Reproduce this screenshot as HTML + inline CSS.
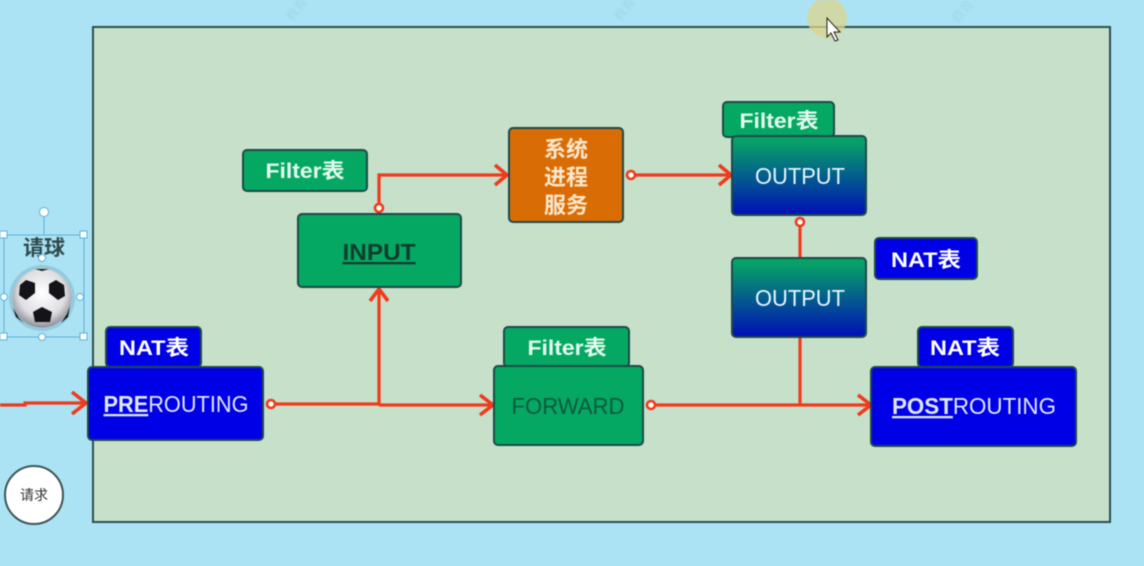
<!DOCTYPE html>
<html><head><meta charset="utf-8">
<style>
html,body{margin:0;padding:0;background:#abe3f4;width:1144px;height:566px;overflow:hidden}
svg{display:block;filter:blur(.55px)}
text{font-family:"Liberation Sans","Noto Sans CJK SC",sans-serif;text-anchor:middle}
</style></head><body>
<svg width="1144" height="566" viewBox="0 0 1144 566" xmlns="http://www.w3.org/2000/svg">
<defs>
<linearGradient id="g" x1="0" y1="0" x2="0" y2="1"><stop offset="0.08" stop-color="#07a068"/><stop offset="1" stop-color="#0010b8"/></linearGradient>
<radialGradient id="ball" cx="0.5" cy="0.42" r="0.6"><stop offset="0" stop-color="#fff"/><stop offset="0.65" stop-color="#dfdfe4"/><stop offset="1" stop-color="#85858e"/></radialGradient>
</defs>
<rect width="1144" height="566" fill="#abe3f4"/>
<text x="300" y="12" font-size="13" fill="#a2d9e8" transform="rotate(-50 300 12)">教育</text>
<text x="628" y="12" font-size="13" fill="#a2d9e8" transform="rotate(-50 628 12)">教育</text>
<text x="966" y="14" font-size="13" fill="#a2d9e8" transform="rotate(-50 966 14)">教育</text>
<rect x="93" y="27" width="1017" height="495" fill="#c6e0c9" stroke="#2c4f50" stroke-width="2"/>
<circle cx="827" cy="18" r="20" fill="#dcd48e" opacity=".75"/>
<path d="M827 18v19l4-4 4 8 3-1-4-8h6z" fill="#fff" stroke="#222" stroke-width="1"/>

<!-- connectors -->
<g fill="none" stroke="#f13a1c" stroke-width="3.2">
<path d="M0 405H25V403H86"/><path d="M72 392l14 11-14 11" stroke-width="3.6"/>
<path d="M275 404H379L380 405H492"/><path d="M480 395l13 10-13 10" stroke-width="3.6"/>
<path d="M379 404V289"/><path d="M370 301l9-12 9 12" stroke-width="3.6"/>
<path d="M379 204V175H507"/><path d="M495 165l12 10-12 10" stroke-width="3.6"/>
<path d="M635 175H731"/><path d="M719 165l12 10-12 10" stroke-width="3.6"/>
<path d="M800 226V258"/><path d="M800 336V405"/>
<path d="M655 405H870"/><path d="M858 395l13 10-13 10" stroke-width="3.6"/>
<g stroke-width="2.6">
<circle cx="271" cy="404" r="4" fill="#fff"/><circle cx="379" cy="208" r="4" fill="#fff"/><circle cx="631" cy="175" r="4" fill="#fff"/><circle cx="800" cy="222" r="4" fill="#fff"/><circle cx="651" cy="405" r="4" fill="#fff"/>
</g>
</g>

<!-- nodes -->
<g stroke="#1d4a4a" stroke-width="2">
<rect x="243" y="150" width="124" height="41" rx="4" fill="#05a862"/>
<rect x="298" y="214" width="163" height="73" rx="4" fill="#05a862"/>
<rect x="509" y="128" width="114" height="94" rx="4" fill="#da6c05"/>
<rect x="723" y="102" width="111" height="35" rx="4" fill="#05a862"/>
<rect x="732" y="136" width="134" height="79" rx="4" fill="url(#g)"/>
<rect x="732" y="258" width="134" height="79" rx="4" fill="url(#g)"/>
<rect x="875" y="238" width="102" height="41" rx="4" fill="#0000e6"/>
<rect x="106" y="327" width="95" height="40" rx="4" fill="#0000e6"/>
<rect x="88" y="367" width="175" height="73" rx="4" fill="#0000e6"/>
<rect x="504" y="327" width="125" height="40" rx="4" fill="#05a862"/>
<rect x="494" y="366" width="149" height="79" rx="4" fill="#05a862"/>
<rect x="918" y="327" width="95" height="40" rx="4" fill="#0000e6"/>
<rect x="871" y="367" width="205" height="79" rx="4" fill="#0000e6"/>
</g>

<!-- labels -->
<g font-size="21" fill="#e4fbef" font-weight="bold">
<text x="305" y="178" textLength="79" lengthAdjust="spacingAndGlyphs">Filter表</text>
<text x="779" y="128" textLength="79" lengthAdjust="spacingAndGlyphs">Filter表</text>
<text x="567" y="355" textLength="79" lengthAdjust="spacingAndGlyphs">Filter表</text>
<text x="926" y="267" fill="#fff" textLength="70" lengthAdjust="spacingAndGlyphs">NAT表</text>
<text x="154" y="355" fill="#fff" textLength="70" lengthAdjust="spacingAndGlyphs">NAT表</text>
<text x="965" y="355" fill="#fff" textLength="70" lengthAdjust="spacingAndGlyphs">NAT表</text>
</g>
<text x="379" y="260" font-size="23" font-weight="bold" fill="#123c30" text-decoration="underline" textLength="73" lengthAdjust="spacingAndGlyphs">INPUT</text>
<g font-size="22" font-weight="bold" fill="#fbe8cc">
<text x="566" y="157">系统</text><text x="566" y="185">进程</text><text x="566" y="213">服务</text>
</g>
<text x="800" y="184" font-size="23" fill="#e2f6ff" textLength="90" lengthAdjust="spacingAndGlyphs">OUTPUT</text>
<text x="800" y="306" font-size="23" fill="#e2f6ff" textLength="90" lengthAdjust="spacingAndGlyphs">OUTPUT</text>
<text x="176" y="412" font-size="23" fill="#dfe6ff" textLength="145" lengthAdjust="spacingAndGlyphs"><tspan font-weight="bold" text-decoration="underline">PRE</tspan>ROUTING</text>
<text x="568" y="414" font-size="23" fill="#0b5a3f" textLength="113" lengthAdjust="spacingAndGlyphs">FORWARD</text>
<text x="974" y="414" font-size="23" fill="#dfe6ff" textLength="164" lengthAdjust="spacingAndGlyphs"><tspan font-weight="bold" text-decoration="underline">POST</tspan>ROUTING</text>

<!-- request -->
<circle cx="34" cy="495" r="29" fill="#fff" stroke="#3d5557" stroke-width="2"/>
<text x="34" y="500" font-size="14" fill="#333">请求</text>

<!-- selected ball -->
<g fill="none" stroke="#5bb2d8" stroke-width="1">
<rect x="4" y="235" width="80" height="102"/><path d="M44 213v22"/>
</g>
<text x="44" y="255" font-size="21" font-weight="bold" fill="#2f4a4d">请球</text>
<circle cx="42" cy="298" r="33" fill="#6a9cae" opacity=".35"/>
<circle cx="42" cy="298" r="29.500" fill="url(#ball)"/>
<g fill="#141418">
<path d="M26 280l9 3 0 10-9 7-7-5 1-10z"/><path d="M56 280l8 5 1 11-7 4-9-7 0-9z"/>
<path d="M42 307l10 5-2 10-15 0-2-10z"/><path d="M13 308l6 10 5 5-8-6z"/><path d="M70 306l-3 8-6 9 7-6z"/><path d="M35 269h14l-7 2z"/>
</g>
<g fill="#fff" stroke="#5bb2d8" stroke-width="1">
<circle cx="44" cy="212" r="4.500"/><circle cx="42" cy="258" r="3.500"/><circle cx="4" cy="297" r="3.500"/><circle cx="80" cy="297" r="3.500"/><circle cx="42" cy="337" r="3.500"/>
<rect x="0" y="231" width="7" height="7"/><rect x="80" y="231" width="7" height="7"/><rect x="0" y="333" width="7" height="7"/><rect x="80" y="333" width="7" height="7"/>
</g>
</svg>
</body></html>
